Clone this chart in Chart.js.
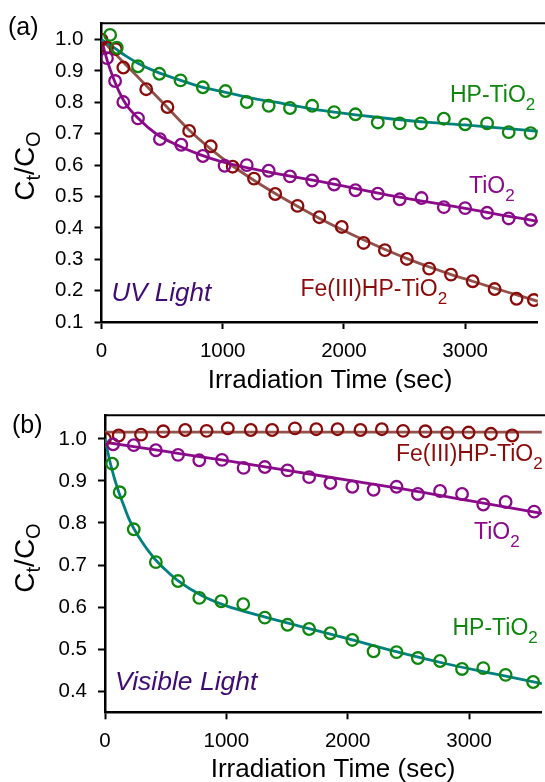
<!DOCTYPE html>
<html><head><meta charset="utf-8">
<script src="https://cdn.jsdelivr.net/npm/chart.js@4/dist/chart.umd.min.js"></script>
<style>
html,body{margin:0;padding:0;background:#fff;overflow:hidden;width:545px;height:782px;}
#c1{position:absolute;left:0;top:0;}
#c2{position:absolute;left:0;top:392px;}
</style></head>
<body>
<canvas id="c1" width="546" height="392"></canvas>
<canvas id="c2" width="550" height="390"></canvas>
<script>
// ---- (a) UV light data ----
const uvHpT = [71,126,301,477,652,836,1023,1198,1379,1555,1738,1919,2095,2279,2460,2635,2824,3000,3181,3359,3540];
const uvHpC = [1.015,0.974,0.915,0.891,0.870,0.848,0.836,0.801,0.789,0.782,0.789,0.769,0.762,0.736,0.733,0.733,0.748,0.730,0.733,0.705,0.702];
const uvTiT = [45,112,180,301,482,658,836,1015,1198,1379,1555,1738,1919,2095,2279,2460,2640,2824,3000,3181,3359,3540];
const uvTiC = [0.941,0.868,0.801,0.749,0.683,0.665,0.629,0.598,0.600,0.582,0.564,0.551,0.538,0.520,0.509,0.491,0.495,0.466,0.463,0.448,0.430,0.425];
const uvFeT = [0,45,118,180,369,544,723,901,1082,1258,1433,1617,1797,1982,2162,2338,2519,2703,2883,3062,3243,3424,3567];
const uvFeC = [1.0,0.975,0.970,0.911,0.842,0.785,0.709,0.660,0.595,0.557,0.508,0.470,0.434,0.403,0.352,0.329,0.301,0.270,0.251,0.230,0.205,0.174,0.170];
// fitted curves
const uvHpFitT = [0,100,200,300,450,600,800,1000,1250,1500,1800,2100,2400,2700,3000,3300,3600];
const uvHpFitC = [1.0,0.975,0.948,0.925,0.898,0.877,0.852,0.834,0.813,0.796,0.775,0.760,0.747,0.736,0.728,0.718,0.708];
const uvTiFitT = [0,50,100,150,200,300,450,600,800,1000,1250,1500,1800,2100,2400,2700,3000,3300,3600];
const uvTiFitC = [1.0,0.930,0.875,0.830,0.795,0.750,0.700,0.668,0.635,0.610,0.588,0.569,0.548,0.525,0.502,0.482,0.462,0.441,0.421];
const uvFeFitT = [0,180,360,540,720,900,1080,1260,1440,1620,1800,1980,2160,2340,2520,2700,2880,3060,3240,3420,3600];
const uvFeFitC = [1.0,0.928,0.857,0.785,0.713,0.652,0.598,0.551,0.508,0.468,0.430,0.395,0.362,0.331,0.302,0.276,0.252,0.230,0.208,0.187,0.166];

// ---- (b) Visible light data ----
const visFeT = [0,113,297,480,661,837,1012,1201,1377,1565,1741,1916,2105,2281,2456,2640,2820,2996,3180,3355];
const visFeC = [1.0,1.008,1.010,1.018,1.021,1.019,1.025,1.021,1.021,1.025,1.023,1.023,1.021,1.023,1.019,1.018,1.014,1.015,1.012,1.008];
const visTiT = [67,237,419,602,777,964,1142,1317,1504,1682,1857,2038,2213,2402,2578,2761,2942,3117,3301,3536];
const visTiC = [0.987,0.985,0.973,0.962,0.949,0.950,0.931,0.933,0.925,0.909,0.895,0.886,0.879,0.886,0.869,0.876,0.869,0.844,0.850,0.827];
const visHpT = [59,121,237,419,602,777,958,1139,1317,1504,1682,1857,2038,2213,2402,2578,2761,2942,3117,3301,3528];
const visHpC = [0.941,0.873,0.785,0.707,0.662,0.622,0.614,0.607,0.575,0.558,0.548,0.538,0.522,0.495,0.493,0.479,0.472,0.453,0.455,0.439,0.422];
const visFeFitT = [0,3600];
const visFeFitC = [1.016,1.016];
const visTiFitT = [0,500,1000,1500,2000,2500,3000,3600];
const visTiFitC = [0.992,0.970,0.948,0.925,0.902,0.879,0.853,0.823];
const visHpFitT = [0,50,100,150,200,300,400,500,600,800,1000,1300,1600,2000,2400,2800,3200,3600];
const visHpFitC = [1.0,0.935,0.885,0.845,0.808,0.757,0.718,0.688,0.663,0.627,0.603,0.578,0.555,0.525,0.494,0.466,0.442,0.418];

// ---- ticks ----
const xTicks = [0,1000,2000,3000];
const uvYTicks = [0.1,0.2,0.3,0.4,0.5,0.6,0.7,0.8,0.9,1.0];
const visYTicks = [0.4,0.5,0.6,0.7,0.8,0.9,1.0];

const FAM = '"Liberation Sans", Arial, sans-serif';
const C_GREEN = '#0f870f', C_TEAL = '#008080', C_PURP = '#8a0a8a', C_RED = '#8b0a0a', C_BROWN = '#92524c', C_IND = '#3e0c72';

const pts = (t, c) => t.map((x, i) => ({x, y: c[i]}));
function scatterDS(t, c, color) {
  return {data: pts(t, c), showLine: false, pointRadius: 5.8, pointBorderWidth: 2.3,
    pointBorderColor: color, pointBackgroundColor: 'rgba(0,0,0,0)', pointHoverRadius: 5.8};
}
function lineDS(t, c, color) {
  return {data: pts(t, c), showLine: true, pointRadius: 0, borderColor: color, borderWidth: 2.8,
    cubicInterpolationMode: 'monotone', fill: false};
}

function drawRich(ctx, x, y, parts, color, center) {
  ctx.save();
  ctx.fillStyle = color; ctx.textBaseline = 'alphabetic'; ctx.textAlign = 'left';
  let w = 0;
  parts.forEach(p => { ctx.font = (p.st || '') + ' ' + p.s + 'px ' + FAM; w += ctx.measureText(p.t).width; });
  let cx = center ? x - w / 2 : x;
  parts.forEach(p => { ctx.font = (p.st || '') + ' ' + p.s + 'px ' + FAM; ctx.fillText(p.t, cx, y + (p.dy || 0)); cx += ctx.measureText(p.t).width; });
  ctx.restore();
}
function yTitle(ctx, x, yc) {
  ctx.save();
  ctx.translate(x, yc);
  ctx.rotate(-Math.PI / 2);
  drawRich(ctx, 0, 0, [{t:'C',s:28},{t:'t',s:20,dy:6},{t:'/',s:28},{t:'C',s:28},{t:'O',s:20,dy:6}], '#000', true);
  ctx.restore();
}

function makeOpts(yMin, yMax, yTicks, yW, xH, padTop) {
  return {
    responsive: false, animation: false, devicePixelRatio: 1,
    layout: {padding: {top: padTop, left: 0, right: 0, bottom: 0}},
    plugins: {legend: {display: false}, tooltip: {enabled: false}},
    events: [],
    scales: {
      x: {type: 'linear', min: 0, max: 3600,
        afterBuildTicks: s => { s.ticks = xTicks.map(v => ({value: v})); },
        afterFit: s => { s.height = xH; },
        ticks: {color: '#000', font: {size: 20.5, family: FAM}, padding: 10, maxRotation: 0, callback: v => String(v)},
        grid: {drawOnChartArea: false, drawTicks: true, tickLength: 7, tickWidth: 2, tickColor: '#000'},
        border: {display: true, color: '#000', width: 2.5}},
      y: {type: 'linear', min: yMin, max: yMax,
        afterBuildTicks: s => { s.ticks = yTicks.map(v => ({value: v})); },
        afterFit: s => { s.width = yW; },
        ticks: {color: '#000', font: {size: 20.5, family: FAM}, padding: 11, callback: v => Number(v).toFixed(1)},
        grid: {drawOnChartArea: false, drawTicks: true, tickLength: 7, tickWidth: 2, tickColor: '#000'},
        border: {display: true, color: '#000', width: 2.5}}
    }
  };
}

function annotPlugin(cfg) {
  return {id: 'annot', afterDraw(chart) {
    const ctx = chart.ctx, a = chart.chartArea;
    ctx.save();
    ctx.strokeStyle = '#000'; ctx.lineWidth = 2;
    ctx.beginPath(); ctx.moveTo(a.left - 1, a.top); ctx.lineTo(chart.width, a.top); ctx.stroke();
    ctx.restore();
    drawRich(ctx, cfg.panel[0], cfg.panel[1], [{t: cfg.panel[2], s: 25}], '#000', false);
    yTitle(ctx, cfg.yt[0], cfg.yt[1]);
    drawRich(ctx, cfg.xt[0], cfg.xt[1], [{t: 'Irradiation Time (sec)', s: 26}], '#000', true);
    cfg.labels.forEach(l => drawRich(ctx, l.x, l.y, l.parts, l.c, false));
  }};
}

const sub = (main, s2) => [{t: main, s: 23}, {t: s2, s: 17, dy: 8}];

new Chart(document.getElementById('c1'), {
  type: 'scatter',
  data: {datasets: [
    scatterDS(uvHpT, uvHpC, C_GREEN),
    scatterDS(uvTiT, uvTiC, C_PURP),
    scatterDS(uvFeT, uvFeC, C_RED),
    lineDS(uvHpFitT, uvHpFitC, C_TEAL),
    lineDS(uvTiFitT, uvTiFitC, C_PURP),
    lineDS(uvFeFitT, uvFeFitC, C_BROWN)
  ]},
  options: makeOpts(0.1, 1.052, uvYTicks, 101.5, 70, 15.5),
  plugins: [annotPlugin({
    panel: [8, 35, '(a)'], yt: [34, 166], xt: [330, 388],
    labels: [
      {x: 450, y: 101.5, parts: sub('HP-TiO', '2'), c: C_GREEN},
      {x: 469, y: 193, parts: sub('TiO', '2'), c: C_PURP},
      {x: 300.5, y: 296, parts: sub('Fe(III)HP-TiO', '2'), c: C_RED},
      {x: 111.5, y: 300.5, parts: [{t: 'UV Light', s: 26, st: 'italic'}], c: C_IND}
    ]})]
});

new Chart(document.getElementById('c2'), {
  type: 'scatter',
  data: {datasets: [
    scatterDS(visHpT, visHpC, C_GREEN),
    scatterDS(visTiT, visTiC, C_PURP),
    scatterDS(visFeT, visFeC, C_RED),
    lineDS(visHpFitT, visHpFitC, C_TEAL),
    lineDS(visTiFitT, visTiFitC, C_PURP),
    lineDS(visFeFitT, visFeFitC, C_BROWN)
  ]},
  options: makeOpts(0.35, 1.056, visYTicks, 105, 69.7, 13.7),
  plugins: [annotPlugin({
    panel: [12, 41, '(b)'], yt: [34, 166], xt: [333, 384.5],
    labels: [
      {x: 396, y: 69, parts: sub('Fe(III)HP-TiO', '2'), c: C_RED},
      {x: 474, y: 146.5, parts: sub('TiO', '2'), c: C_PURP},
      {x: 452.5, y: 242.5, parts: sub('HP-TiO', '2'), c: C_GREEN},
      {x: 115, y: 298, parts: [{t: 'Visible Light', s: 26.5, st: 'italic'}], c: C_IND}
    ]})]
});
</script>
</body></html>
